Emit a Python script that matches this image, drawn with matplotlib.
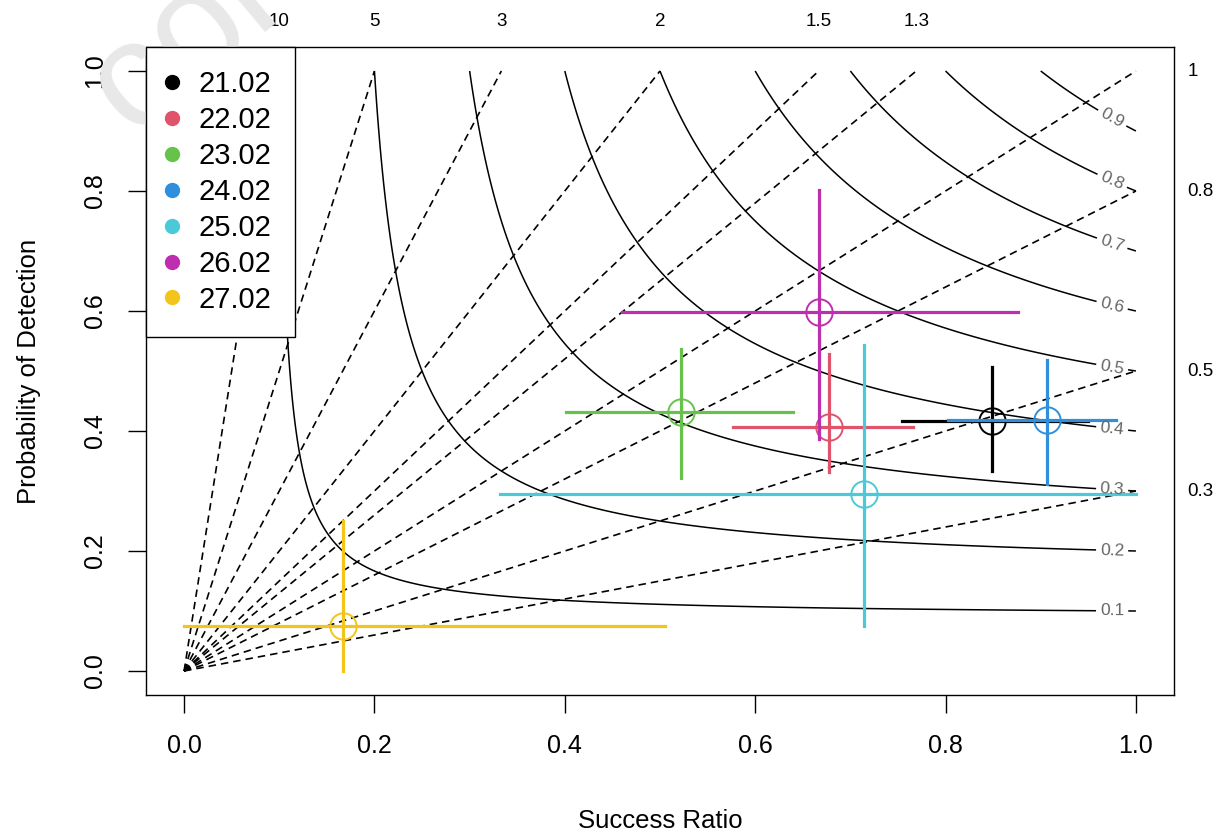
import numpy as np
import matplotlib
matplotlib.use("Agg")
import matplotlib.pyplot as plt
from matplotlib.lines import Line2D

plt.rcParams['font.family'] = ['Liberation Sans', 'DejaVu Sans']

# forecast days, success ratio / POD with their ranges
dates = ["21.02", "22.02", "23.02", "24.02", "25.02", "26.02", "27.02"]
colors = ["#000000", "#df536b", "#67c24c", "#2f8fdc", "#4cc9d8", "#bd2fae", "#f3c41a"]
sr = [0.849, 0.678, 0.522, 0.907, 0.714, 0.667, 0.167]
sr_lo = [0.754, 0.577, 0.401, 0.803, 0.332, 0.460, 0.000]
sr_hi = [0.950, 0.766, 0.640, 0.979, 1.000, 0.876, 0.505]
pod = [0.417, 0.407, 0.432, 0.419, 0.295, 0.599, 0.075]
pod_lo = [0.334, 0.332, 0.322, 0.311, 0.075, 0.386, 0.000]
pod_hi = [0.506, 0.529, 0.536, 0.519, 0.543, 0.801, 0.250]

bias_levels = [0.3, 0.5, 0.8, 1, 1.3, 1.5, 2, 3, 5, 10]
csi_levels = [0.1, 0.2, 0.3, 0.4, 0.5, 0.6, 0.7, 0.8, 0.9]

fig = plt.figure(figsize=(12.24, 8.34), dpi=100)
ax = fig.add_axes([146/1224, 1-695/834, (1174-146)/1224, (695-47)/834])
ax.set_xlim(-0.04, 1.04)
ax.set_ylim(-0.04, 1.04)

# CSI isolines
g = np.linspace(0.001, 1, 500)
SR, POD = np.meshgrid(g, g)
CSI = 1 / (1 / SR + 1 / POD - 1)
cs = ax.contour(SR, POD, CSI, levels=csi_levels, colors='k', linewidths=1.1)
label_pos = [(0.975, 1 / (1 / c + 1 - 1 / 0.975)) for c in csi_levels]
ax.clabel(cs, fmt='%g', manual=label_pos, inline=True, fontsize=12.5,
          colors='#666666', inline_spacing=4)

# bias lines
for b in bias_levels:
    if b > 1:
        ax.plot([0, 1 / b], [0, 1], color='k', lw=1.2, ls=(0, (4.5, 3)))
        ax.text(1 / b, 1.083, f"{b:g}", ha='center', va='center', fontsize=13.5, clip_on=False)
    else:
        ax.plot([0, 1], [0, b], color='k', lw=1.2, ls=(0, (4.5, 3)))
        ax.text(1.054, b, f"{b:g}", ha='left', va='center', fontsize=13.5, clip_on=False)

# points with ranges
for i in range(len(dates)):
    ax.plot([sr_lo[i], sr_hi[i]], [pod[i], pod[i]], color=colors[i], lw=2.3, zorder=3)
    ax.plot([sr[i], sr[i]], [pod_lo[i], pod_hi[i]], color=colors[i], lw=2.3, zorder=3)
    ax.plot(sr[i], pod[i], 'o', mfc='none', mec=colors[i], ms=19, mew=1.4, zorder=3)

handles = [Line2D([], [], marker='o', ls='none', color=c, ms=10) for c in colors]
leg = ax.legend(handles, dates, loc='upper left', bbox_to_anchor=(0, 1), borderaxespad=0,
                fancybox=False, edgecolor='k', framealpha=1, fontsize=21, borderpad=0.8,
                handlelength=0.15, handletextpad=0.85, labelspacing=0.27)
leg.get_frame().set_linewidth(1.0)
leg.set_zorder(5)

ticks = [0.0, 0.2, 0.4, 0.6, 0.8, 1.0]
ax.set_xticks(ticks)
ax.set_xticklabels([f"{t:.1f}" for t in ticks])
ax.set_yticks(ticks)
ax.set_yticklabels([f"{t:.1f}" for t in ticks], va='center')
ax.tick_params(length=13, width=1, pad=15, labelsize=18)
ax.tick_params(axis='y', labelrotation=90)
for s in ax.spines.values():
    s.set_linewidth(1.0)

ax.set_xlabel("Success Ratio", fontsize=18.5, labelpad=37)
ax.set_ylabel("Probability of Detection", fontsize=18.5, labelpad=30)

# faint watermark in the corner, behind the legend
ax.text(108/1224, 1-107/834, "col", transform=fig.transFigure, rotation=40,
        rotation_mode='anchor', fontsize=110, color='#e8e8e8', ha='left', va='center',
        zorder=4, clip_on=False)

fig.savefig("out.png", dpi=100)
